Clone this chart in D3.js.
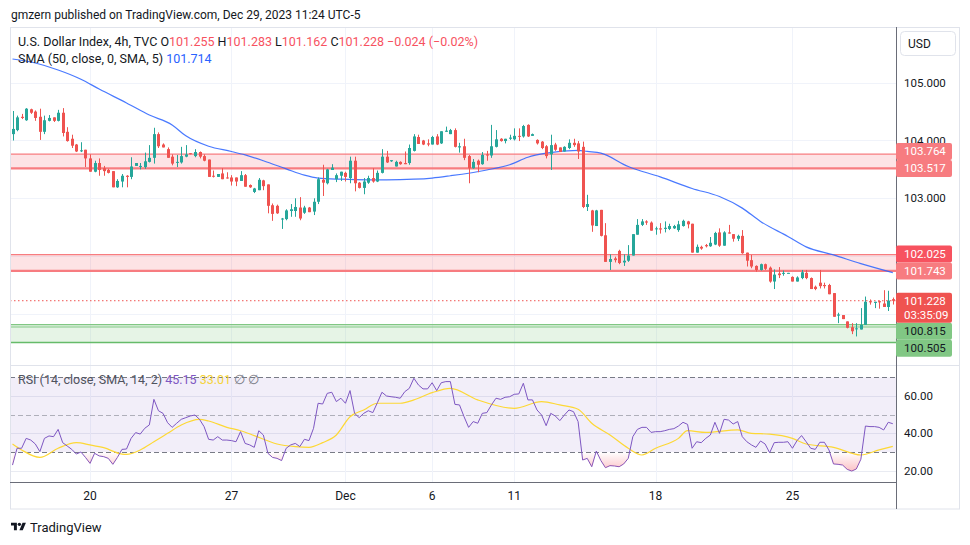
<!DOCTYPE html>
<html><head><meta charset="utf-8">
<script src="https://cdn.jsdelivr.net/npm/d3@7"></script>
<style>
html,body{margin:0;padding:0;background:#fff;}
svg{display:block;font-family:Roboto,"Trebuchet MS",Arial,sans-serif;}
</style></head>
<body><svg id="c" width="970" height="545"></svg>
<script>
// ---------------- DATA ----------------
const opens=[104.11,104.18,104.41,104.35,104.54,104.50,104.41,104.15,104.34,104.40,104.34,104.48,104.15,104.03,103.93,103.82,103.84,103.69,103.46,103.61,103.52,103.49,103.47,103.19,103.29,103.39,103.37,103.56,103.55,103.54,103.63,103.70,104.11,103.93,103.85,103.72,103.62,103.62,103.72,103.78,103.73,103.80,103.73,103.67,103.39,103.37,103.43,103.36,103.36,103.36,103.30,103.40,103.23,103.11,103.14,103.31,103.24,102.88,102.87,102.64,102.64,102.78,102.78,102.84,102.75,102.84,102.77,102.94,103.32,103.26,103.49,103.33,103.39,103.44,103.35,103.65,103.27,103.18,103.27,103.35,103.29,103.44,103.72,103.64,103.55,103.63,103.61,103.61,103.82,104.06,104.00,103.95,103.93,104.07,103.95,104.15,104.11,104.18,103.88,103.90,103.73,103.52,103.65,103.59,103.76,103.74,103.89,104.03,103.99,104.03,104.02,104.08,104.07,104.27,104.08,104.01,103.98,103.90,103.76,103.93,103.88,103.81,103.87,103.96,103.95,103.89,102.85,102.79,102.52,102.80,102.36,101.90,101.96,102.09,101.89,101.92,102.01,102.37,102.54,102.60,102.58,102.47,102.48,102.47,102.47,102.48,102.45,102.52,102.60,102.56,102.06,102.16,102.19,102.17,102.20,102.41,102.18,102.41,102.38,102.30,102.35,102.06,101.93,101.83,101.76,101.86,101.80,101.56,101.70,101.70,101.70,101.64,101.56,101.62,101.71,101.62,101.47,101.54,101.50,101.50,101.36,100.97,100.98,100.87,100.77,100.74,100.73,100.81,101.22,101.19,101.22,101.18,101.12,101.255];
const highs=[104.51,104.43,104.46,104.56,104.55,104.52,104.55,104.43,104.44,104.40,104.53,104.56,104.23,104.10,103.94,103.97,103.84,103.76,103.65,103.69,103.56,103.51,103.47,103.33,103.42,103.40,103.71,103.61,103.61,103.79,103.92,104.22,104.14,103.95,103.88,103.76,103.75,103.89,103.92,103.78,103.85,103.81,103.76,103.67,103.48,103.42,103.52,103.45,103.40,103.36,103.47,103.42,103.24,103.18,103.35,103.32,103.24,102.91,102.89,102.66,102.81,102.90,103.00,103.02,102.87,102.85,103.00,103.36,103.58,103.51,103.59,103.43,103.46,103.46,103.72,103.72,103.28,103.35,103.39,103.52,103.48,103.85,103.82,103.66,103.65,103.64,103.81,103.93,104.11,104.10,104.01,104.02,104.08,104.11,104.16,104.24,104.20,104.21,103.96,104.03,103.75,103.68,103.67,103.80,103.82,104.27,104.18,104.04,104.03,104.10,104.21,104.21,104.27,104.28,104.12,104.02,103.99,103.92,104.10,103.96,103.88,103.90,104.02,104.03,103.99,103.98,103.06,102.80,102.80,102.80,102.57,102.03,101.99,102.11,102.03,102.19,102.38,102.64,102.64,102.62,102.60,102.51,102.57,102.60,102.56,102.54,102.61,102.63,102.61,102.56,102.20,102.18,102.21,102.33,102.42,102.48,102.43,102.54,102.38,102.37,102.45,102.06,102.02,101.84,101.87,101.87,101.82,101.77,101.81,101.75,101.71,101.65,101.65,101.76,101.76,101.63,101.49,101.76,101.54,101.52,101.36,101.02,100.98,100.87,100.84,100.84,101.10,101.30,101.25,101.21,101.23,101.41,101.40,101.283];
const lows=[104.00,104.16,104.37,104.34,104.46,104.34,104.01,104.11,104.33,104.32,104.33,104.07,103.98,103.87,103.80,103.80,103.54,103.46,103.45,103.39,103.39,103.43,103.19,103.18,103.19,103.19,103.33,103.56,103.50,103.51,103.62,103.60,103.87,103.88,103.70,103.57,103.54,103.60,103.71,103.76,103.71,103.69,103.64,103.37,103.36,103.37,103.33,103.34,103.22,103.21,103.30,103.20,103.18,103.09,103.14,103.14,102.74,102.61,102.73,102.47,102.62,102.68,102.68,102.62,102.73,102.76,102.71,102.90,103.04,103.24,103.49,103.28,103.30,103.29,103.26,103.12,103.17,103.07,103.25,103.27,103.28,103.43,103.61,103.63,103.55,103.58,103.59,103.58,103.81,103.94,103.92,103.90,103.93,103.92,103.94,104.15,104.11,103.88,103.79,103.66,103.26,103.51,103.45,103.58,103.65,103.70,103.88,103.98,103.95,104.01,104.00,103.99,104.05,104.06,104.08,103.93,103.85,103.69,103.49,103.82,103.80,103.81,103.85,103.89,103.68,102.83,102.78,102.42,102.52,102.34,101.90,101.76,101.89,101.86,101.83,101.90,102.01,102.37,102.52,102.54,102.44,102.37,102.39,102.41,102.45,102.47,102.42,102.51,102.48,102.06,102.06,102.11,102.15,102.16,102.19,102.16,102.18,102.39,102.25,102.26,102.04,101.82,101.79,101.73,101.75,101.76,101.54,101.43,101.62,101.66,101.70,101.56,101.56,101.60,101.60,101.43,101.41,101.44,101.44,101.34,100.95,100.84,100.91,100.75,100.65,100.61,100.73,100.81,101.16,101.10,101.09,101.12,101.05,101.162];
const closes=[104.20,104.40,104.39,104.55,104.48,104.39,104.15,104.35,104.39,104.34,104.48,104.13,103.99,103.91,103.81,103.83,103.69,103.46,103.61,103.49,103.47,103.44,103.19,103.30,103.39,103.37,103.55,103.61,103.56,103.64,103.70,104.11,103.90,103.88,103.70,103.60,103.63,103.73,103.76,103.77,103.80,103.72,103.65,103.37,103.38,103.42,103.33,103.35,103.29,103.29,103.40,103.20,103.19,103.17,103.32,103.21,102.87,102.73,102.74,102.65,102.79,102.81,102.85,102.65,102.84,102.76,102.94,103.33,103.27,103.50,103.53,103.40,103.46,103.37,103.65,103.26,103.18,103.29,103.35,103.29,103.44,103.72,103.62,103.66,103.63,103.59,103.59,103.87,104.07,103.94,103.93,103.93,104.06,103.93,104.16,104.17,104.18,103.89,103.90,103.70,103.52,103.63,103.58,103.75,103.74,103.90,104.02,103.99,104.03,104.05,104.08,104.07,104.25,104.07,104.11,103.95,103.87,103.73,103.92,103.84,103.80,103.89,103.96,103.92,103.81,102.85,102.90,102.53,102.79,102.35,101.90,101.95,101.93,101.88,101.92,102.01,102.38,102.54,102.60,102.58,102.44,102.48,102.46,102.49,102.52,102.52,102.55,102.61,102.55,102.06,102.16,102.13,102.17,102.23,102.40,102.18,102.41,102.39,102.30,102.35,102.05,101.92,101.82,101.76,101.86,101.78,101.56,101.68,101.67,101.71,101.71,101.56,101.63,101.72,101.62,101.43,101.43,101.48,101.48,101.34,100.95,100.99,100.91,100.76,100.70,100.75,100.81,101.21,101.20,101.21,101.20,101.12,101.23,101.228];

const smaIdx=[0,5,10,15,19,25,30,35,38,43,48,51,55,60,64,67,72,78,82,88,92,96,104,109,113,117,124,126,129,135,142,149,155,160,164,170,174,180,186,193];
const smaVals=[105.41,105.34,105.22,105.06,104.89,104.65,104.44,104.27,104.08,103.90,103.81,103.75,103.65,103.51,103.40,103.35,103.33,103.32,103.32,103.33,103.35,103.39,103.49,103.58,103.71,103.78,103.83,103.81,103.78,103.55,103.37,103.17,103.03,102.83,102.60,102.34,102.16,102.02,101.87,101.714];

// RSI(14) per bar
const rsiValues=[23.0,32.0,32.0,37.3,36.4,34.3,30.2,37.3,38.6,38.2,42.1,35.0,33.2,31.4,28.9,30.0,27.1,23.9,29.3,27.9,27.5,26.6,23.4,27.1,31.4,31.6,37.3,40.4,39.6,42.7,44.5,58.2,52.1,50.7,45.7,43.2,45.4,47.5,48.4,49.3,49.8,47.5,43.6,36.8,36.4,38.2,36.4,36.4,36.1,35.5,40.9,34.6,33.8,32.5,41.4,39.1,29.3,27.1,26.6,25.4,32.0,33.8,34.6,32.9,36.8,36.1,42.7,56.1,55.7,61.4,62.0,57.0,58.8,56.1,62.9,50.7,48.4,50.7,52.1,51.1,56.4,62.0,60.0,59.6,59.3,58.8,62.3,64.1,69.5,65.9,63.8,63.8,67.1,62.9,67.1,67.7,67.7,55.5,55.2,48.9,43.2,46.3,45.4,50.7,51.1,55.2,58.8,58.2,59.3,59.6,60.9,61.1,66.8,57.9,57.9,52.5,49.8,44.1,50.7,49.3,46.8,49.8,52.5,51.6,46.3,25.7,26.6,22.1,30.5,25.4,21.6,22.7,22.5,22.1,23.6,26.6,38.2,42.1,43.2,43.2,40.5,40.9,40.9,41.4,42.1,42.5,43.9,45.9,44.8,32.0,35.5,35.0,37.3,39.1,45.9,40.0,47.5,47.1,45.0,46.3,38.2,35.5,33.8,32.5,35.9,34.3,29.6,35.0,35.2,35.2,35.5,32.0,36.1,38.8,35.5,32.0,31.4,35.2,35.2,31.1,23.6,23.4,23.0,20.7,19.8,20.9,26.1,43.9,43.6,43.6,43.2,41.8,45.9,45.15];

const rsiMaIdx=[0,2,6,10,14,17,20,24,25,28,31,34,37,41,43,47,50,53,58,62,65,68,71,74,77,80,85,88,92,96,102,110,116,120,124,127,131,135,138,141,146,148,152,159,162,166,171,174,180,186,190,193];
const rsiMaVals=[34.3,31.1,27.1,32.0,35.0,33.8,32.3,28.9,28.75,31.1,35.5,40.0,44.5,47.5,46.6,43.2,41.4,38.8,34.3,32.9,32.5,35.0,39.1,48.9,52.5,56.1,56.1,57.9,61.8,64.1,57.9,53.4,57.0,55.2,52.9,45.4,39.1,32.0,28.4,32.0,37.3,41.4,40.5,41.8,40.0,39.6,37.3,34.3,32.5,28.4,31.1,33.01];

const priceGrid=[101,102,103,104,105];
const priceTicks=[105,104,103,102,101];
const rsiTicks=[60,40,20];
const rsiLevels=[70,50,30];
const dayTickIdx=[17,48,73,92,110,141,171];
const dayTickLabels=["20","27","Dec","6","11","18","25"];
const redBands=[[103.764,103.517],[102.025,101.743]];
const greenBand=[100.815,100.505];
const lastPrice=101.228;
const countdown="03:35:09";
const smaLast=101.714;
const rsiLast=45.15, rsiMaLast=33.01;
const ohlcLast={o:"101.255",h:"101.283",l:"101.162",c:"101.228",chg:"−0.024",pct:"(−0.02%)"};

// ---------------- LAYOUT ----------------
const paneL=10, paneR=896, mainTop=28, mainBot=365, rsiTop=366, rsiBot=482, axisBot=509, frameR=960;
const UP="#26a69a", DN="#ef5350", TXT="#131722", GRID="#f0f3fa";

const svg=d3.select("#c");
const defs=svg.append("defs");
defs.append("clipPath").attr("id","clipMain").append("rect").attr("x",paneL).attr("y",mainTop).attr("width",paneR-paneL).attr("height",mainBot-mainTop);
defs.append("clipPath").attr("id","clipRsi").append("rect").attr("x",paneL).attr("y",rsiTop).attr("width",paneR-paneL).attr("height",rsiBot-rsiTop);

const x=d3.scaleLinear().domain([0,193]).range([12.5,892.8]);
const y=d3.scaleLinear().domain([100.116,105.946]).range([mainBot,mainTop]);
const yr=d3.scaleLinear().domain([13.93,76.06]).range([rsiBot,rsiTop]);

svg.append("rect").attr("width",970).attr("height",545).attr("fill","#fff");

// grids
const g0=svg.append("g");
g0.selectAll(".hg").data(priceGrid).join("line")
  .attr("x1",paneL).attr("x2",paneR).attr("y1",d=>Math.round(y(d))+0.5).attr("y2",d=>Math.round(y(d))+0.5)
  .attr("stroke",GRID).attr("stroke-width",1);
g0.selectAll(".rg").data(rsiTicks).join("line")
  .attr("x1",paneL).attr("x2",paneR).attr("y1",d=>Math.round(yr(d))+0.5).attr("y2",d=>Math.round(yr(d))+0.5)
  .attr("stroke","#e9ebf2").attr("stroke-width",1);
g0.selectAll(".vg").data(dayTickIdx).join("line")
  .attr("x1",d=>Math.round(x(d))+0.5).attr("x2",d=>Math.round(x(d))+0.5).attr("y1",mainTop).attr("y2",rsiBot)
  .attr("stroke",GRID).attr("stroke-width",1);

// ---------------- MAIN PANE ----------------
const gm=svg.append("g").attr("clip-path","url(#clipMain)");
redBands.forEach(b=>{
  gm.append("rect").attr("x",paneL).attr("width",paneR-paneL).attr("y",y(b[0])).attr("height",y(b[1])-y(b[0])).attr("fill","rgba(242,54,69,0.14)");
  gm.append("line").attr("x1",paneL).attr("x2",paneR).attr("y1",y(b[0])).attr("y2",y(b[0])).attr("stroke","#f77c80").attr("stroke-width",1.2);
  gm.append("line").attr("x1",paneL).attr("x2",paneR).attr("y1",y(b[1])).attr("y2",y(b[1])).attr("stroke","#f77c80").attr("stroke-width",2.2);
});
gm.append("rect").attr("x",paneL).attr("width",paneR-paneL).attr("y",y(greenBand[0])).attr("height",y(greenBand[1])-y(greenBand[0])).attr("fill","rgba(129,199,132,0.2)");
gm.append("line").attr("x1",paneL).attr("x2",paneR).attr("y1",y(greenBand[0])).attr("y2",y(greenBand[0])).attr("stroke","#81c784").attr("stroke-width",1.2);
gm.append("line").attr("x1",paneL).attr("x2",paneR).attr("y1",y(greenBand[0])+2.4).attr("y2",y(greenBand[0])+2.4).attr("stroke","#81c784").attr("stroke-width",1);
gm.append("line").attr("x1",paneL).attr("x2",paneR).attr("y1",y(greenBand[1])).attr("y2",y(greenBand[1])).attr("stroke","#66bb6a").attr("stroke-width",1.5);

// SMA
gm.append("path").datum(smaIdx.map((d,i)=>[d,smaVals[i]]))
  .attr("d",d3.line().x(d=>x(d[0])).y(d=>y(d[1])).curve(d3.curveMonotoneX))
  .attr("fill","none").attr("stroke","#2962ff").attr("stroke-width",1.2).attr("stroke-opacity",0.85);

// candles
const bars=opens.map((o,i)=>({i,o,h:highs[i],l:lows[i],c:closes[i]}));
gm.selectAll(".wick").data(bars).join("line")
  .attr("x1",d=>Math.round(x(d.i))+0.5).attr("x2",d=>Math.round(x(d.i))+0.5)
  .attr("y1",d=>y(d.h)).attr("y2",d=>y(d.l))
  .attr("stroke",d=>d.c>=d.o?UP:DN).attr("stroke-width",1);
gm.selectAll(".body").data(bars).join("rect")
  .attr("x",d=>Math.round(x(d.i))-1).attr("width",3)
  .attr("y",d=>y(Math.max(d.o,d.c))).attr("height",d=>Math.max(1,Math.abs(y(d.o)-y(d.c))))
  .attr("fill",d=>d.c>=d.o?UP:DN);

// last price line
gm.append("line").attr("x1",paneL).attr("x2",paneR).attr("y1",y(lastPrice)).attr("y2",y(lastPrice))
  .attr("stroke",DN).attr("stroke-width",1).attr("stroke-dasharray","1.5,2.5");

// ---------------- RSI PANE ----------------
const gr=svg.append("g").attr("clip-path","url(#clipRsi)");
gr.append("rect").attr("x",paneL).attr("width",paneR-paneL).attr("y",yr(70)).attr("height",yr(30)-yr(70)).attr("fill","rgba(126,87,194,0.1)");
rsiLevels.forEach(v=>{
  gr.append("line").attr("x1",paneL).attr("x2",paneR).attr("y1",Math.round(yr(v))+0.5).attr("y2",Math.round(yr(v))+0.5)
    .attr("stroke",v===50?"rgba(120,123,134,0.55)":"#787b86").attr("stroke-width",1).attr("stroke-dasharray","5,3");
});
const grad=defs.append("linearGradient").attr("id","osg").attr("gradientUnits","userSpaceOnUse")
  .attr("x1",0).attr("x2",0).attr("y1",yr(30)).attr("y2",yr(20));
grad.append("stop").attr("offset",0).attr("stop-color","rgb(242,54,69)").attr("stop-opacity",0);
grad.append("stop").attr("offset",1).attr("stop-color","rgb(242,54,69)").attr("stop-opacity",0.3);
defs.append("clipPath").attr("id","clipOS").append("rect").attr("x",paneL).attr("y",yr(30)).attr("width",paneR-paneL).attr("height",rsiBot-yr(30));
const rsiPts=rsiValues.map((v,i)=>[i,v]);
svg.append("path").datum(rsiPts).attr("clip-path","url(#clipOS)")
  .attr("d",d3.area().x(d=>x(d[0])).y0(yr(30)).y1(d=>yr(d[1])))
  .attr("fill","url(#osg)");
gr.append("path").datum(rsiMaIdx.map((d,i)=>[d,rsiMaVals[i]]))
  .attr("d",d3.line().x(d=>x(d[0])).y(d=>yr(d[1])).curve(d3.curveMonotoneX))
  .attr("fill","none").attr("stroke","#fdd835").attr("stroke-width",1.2);
gr.append("path").datum(rsiPts)
  .attr("d",d3.line().x(d=>x(d[0])).y(d=>yr(d[1])))
  .attr("fill","none").attr("stroke","#7e57c2").attr("stroke-width",1);

// ---------------- FRAME & AXES ----------------
svg.append("rect").attr("x",paneL+0.5).attr("y",27.5).attr("width",frameR-paneL-1).attr("height",axisBot-27.5).attr("fill","none").attr("stroke","#e0e3eb").attr("stroke-width",1);
svg.append("line").attr("x1",paneL).attr("x2",frameR).attr("y1",rsiTop-0.5).attr("y2",rsiTop-0.5).attr("stroke","#e0e3eb");
svg.append("line").attr("x1",paneR+0.5).attr("x2",paneR+0.5).attr("y1",27).attr("y2",axisBot).attr("stroke","#6a6d78");
svg.append("line").attr("x1",paneL).attr("x2",paneR).attr("y1",rsiBot+0.5).attr("y2",rsiBot+0.5).attr("stroke","#6a6d78");

const axisFont="11.5px";

// price labels on axis with collision layout
const boxH=17, lastH=30;
const lab=[
  {v:redBands[0][0],bg:"#f77c80",fg:"#fff"},
  {v:redBands[0][1],bg:"#f77c80",fg:"#fff"},
  {v:redBands[1][0],bg:"#f7525f",fg:"#fff"},
  {v:redBands[1][1],bg:"#f77c80",fg:"#fff"},
  {v:greenBand[0],bg:"#81c784",fg:TXT},
  {v:greenBand[1],bg:"#81c784",fg:TXT}
];
const lpTop=y(lastPrice)-8, lpBot=lpTop+lastH;
let prev=lpTop;
lab.filter(d=>d.v>lastPrice).sort((a,b)=>a.v-b.v).forEach(d=>{const bot=Math.min(y(d.v)+boxH/2,prev);d.top=bot-boxH;prev=d.top;});
prev=lpBot;
lab.filter(d=>d.v<lastPrice).sort((a,b)=>b.v-a.v).forEach(d=>{d.top=Math.max(y(d.v)-boxH/2,prev);prev=d.top+boxH;});
const occupied=lab.map(d=>[d.top,d.top+boxH]).concat([[lpTop,lpBot]]);

// tick labels: hidden when covered by a label box, clipped when partly covered
const ga=svg.append("g").attr("font-size",axisFont).attr("fill",TXT);
priceTicks.forEach((d,k)=>{
  const ty=y(d), t0=ty-5, t1=ty+5;
  let clipTop=null, hidden=false;
  occupied.forEach(o=>{
    const ov=Math.min(t1,o[1])-Math.max(t0,o[0]);
    if(ov>3) hidden=true;
    else if(ov>0) clipTop=o[0];
  });
  if(hidden) return;
  const t=ga.append("text").attr("x",904).attr("y",ty).attr("dy","0.35em").text(d.toFixed(3));
  if(clipTop!==null){
    defs.append("clipPath").attr("id","tc"+k).append("rect").attr("x",paneR).attr("y",27).attr("width",64).attr("height",clipTop-27);
    t.attr("clip-path","url(#tc"+k+")");
  }
});
ga.selectAll(".rt").data(rsiTicks).join("text").attr("x",904).attr("y",d=>yr(d)).attr("dy","0.35em").text(d=>d.toFixed(2));
svg.append("g").attr("font-size","12px").attr("fill",TXT).selectAll("text").data(dayTickIdx).join("text")
  .attr("x",d=>x(d)).attr("y",496).attr("dy","0.35em").attr("text-anchor","middle").text((d,i)=>dayTickLabels[i]);

const gl=svg.append("g").attr("font-size",axisFont);
lab.forEach(d=>{
  gl.append("rect").attr("x",paneR).attr("y",d.top).attr("width",56).attr("height",boxH).attr("rx",2).attr("fill",d.bg);
  gl.append("text").attr("x",904).attr("y",d.top+boxH/2).attr("dy","0.35em").attr("fill",d.fg).text(d.v.toFixed(3));
});
gl.append("rect").attr("x",paneR).attr("y",lpTop).attr("width",56).attr("height",lastH).attr("rx",2).attr("fill",DN);
gl.append("text").attr("x",904).attr("y",y(lastPrice)).attr("dy","0.35em").attr("fill","#fff").text(lastPrice.toFixed(3));
gl.append("text").attr("x",904).attr("y",y(lastPrice)+14).attr("dy","0.35em").attr("fill","#fff").text(countdown);

// USD box
svg.append("rect").attr("x",900.5).attr("y",31.5).attr("width",55).attr("height",24).attr("rx",4).attr("fill","#fff").attr("stroke","#e0e3eb");
svg.append("text").attr("x",908).attr("y",44).attr("dy","0.35em").attr("font-size","12px").attr("fill",TXT).text("USD");

// ---------------- TEXTS ----------------
svg.append("text").attr("x",11).attr("y",15).attr("dy","0.35em").attr("font-size","12px").attr("fill",TXT)
  .text("gmzern published on TradingView.com, Dec 29, 2023 11:24 UTC-5");
const lg1=svg.append("text").attr("x",18).attr("y",42).attr("dy","0.35em").attr("font-size","12.5px").attr("fill",TXT);
lg1.append("tspan").text("U.S. Dollar Index, 4h, TVC  ");
[["O",ohlcLast.o],["H",ohlcLast.h],["L",ohlcLast.l],["C",ohlcLast.c]].forEach(p=>{
  lg1.append("tspan").attr("fill",TXT).text(p[0]);
  lg1.append("tspan").attr("fill","#f7525f").text(p[1]+"  ");
});
lg1.append("tspan").attr("fill","#f7525f").text(ohlcLast.chg+" "+ohlcLast.pct);
const lg2=svg.append("text").attr("x",18).attr("y",59).attr("dy","0.35em").attr("font-size","12.5px").attr("fill",TXT);
lg2.append("tspan").text("SMA (50, close, 0, SMA, 5)  ");
lg2.append("tspan").attr("fill","#2962ff").text(smaLast.toFixed(3));
const lg3=svg.append("text").attr("x",18).attr("y",380).attr("dy","0.35em").attr("font-size","12.5px").attr("fill","#50535e");
lg3.append("tspan").text("RSI (14, close, SMA, 14, 2)  ");
lg3.append("tspan").attr("fill","#7e57c2").text(rsiLast.toFixed(2)+"  ");
lg3.append("tspan").attr("fill","#f5d33a").text(rsiMaLast.toFixed(2)+"  ");
lg3.append("tspan").attr("fill","#787b86").text("∅  ∅");

// TradingView logo
const logo=svg.append("g").attr("transform","translate(11,521) scale(0.42)").attr("fill",TXT);
logo.append("path").attr("d","M14 22H7V11H0V4h14v18zM28 22h-8l7.5-18h8L28 22z");
logo.append("circle").attr("cx",20).attr("cy",8).attr("r",4);
svg.append("text").attr("x",30).attr("y",527).attr("dy","0.35em").attr("font-size","13px").attr("fill",TXT).text("TradingView");
</script></body></html>
